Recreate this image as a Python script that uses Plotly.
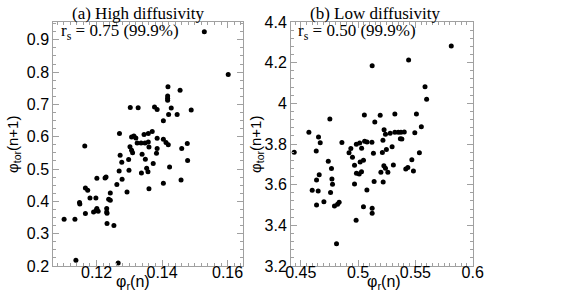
import plotly.graph_objects as go

# ---------------- data ----------------
# (a) High diffusivity
phi_r_high = [0.1529, 0.1602, 0.1418, 0.1455, 0.1417, 0.1417, 0.1417, 0.1303, 0.1327, 0.1377,
              0.1385, 0.1428, 0.1489, 0.1420, 0.1446, 0.1404, 0.1370, 0.1358, 0.1385, 0.1270,
              0.1307, 0.1314, 0.1320, 0.1345, 0.1324, 0.1336, 0.1348, 0.1358, 0.1360, 0.1404,
              0.1412, 0.1419, 0.1477, 0.1460, 0.1385, 0.1383, 0.1164, 0.1302, 0.1307, 0.1310,
              0.1339, 0.1272, 0.1298, 0.1349, 0.1373, 0.1353, 0.1357, 0.1337, 0.1423, 0.1478,
              0.1458, 0.1404, 0.1360, 0.1277, 0.1269, 0.1299, 0.1278, 0.1262, 0.1293, 0.1201,
              0.1226, 0.1229, 0.1166, 0.1173, 0.1242, 0.1180, 0.1198, 0.1237, 0.1242, 0.1148,
              0.1149, 0.1201, 0.1199, 0.1205, 0.1191, 0.1231, 0.1231, 0.1232, 0.1166, 0.1101,
              0.1134, 0.1232, 0.1253, 0.1137, 0.1266]
phi_tor_high = [0.9245, 0.7926, 0.7548, 0.7440, 0.7263, 0.7192, 0.7130, 0.6904, 0.6900, 0.6923,
                0.6842, 0.6892, 0.6830, 0.6687, 0.6687, 0.6495, 0.6161, 0.6099, 0.5954, 0.6099,
                0.5994, 0.6025, 0.5963, 0.6068, 0.5808, 0.5808, 0.5808, 0.5839, 0.5684, 0.5923,
                0.5820, 0.5752, 0.5789, 0.5635, 0.5635, 0.5489, 0.5715, 0.5690, 0.5582, 0.5505,
                0.5458, 0.5427, 0.5294, 0.5303, 0.5170, 0.5025, 0.4916, 0.4879, 0.5065, 0.5263,
                0.4663, 0.4560, 0.4390, 0.5210, 0.4941, 0.4963, 0.4684, 0.4520, 0.4291, 0.4715,
                0.4724, 0.4755, 0.4415, 0.4344, 0.4260, 0.4105, 0.4105, 0.4065, 0.4034, 0.3963,
                0.3920, 0.3777, 0.3724, 0.3693, 0.3672, 0.3777, 0.3672, 0.3632, 0.3622, 0.3446,
                0.3446, 0.3313, 0.3251, 0.2176, 0.2093]

# (b) Low diffusivity
phi_r_low = [0.5813, 0.5441, 0.5123, 0.5584, 0.5598, 0.4754, 0.5055, 0.5193, 0.5321, 0.5509,
             0.5146, 0.5552, 0.4571, 0.5227, 0.5239, 0.5280, 0.5321, 0.5351, 0.5374, 0.5403,
             0.5495, 0.5369, 0.5382, 0.4655, 0.4670, 0.4859, 0.4985, 0.5014, 0.5057, 0.5078,
             0.5121, 0.5217, 0.4937, 0.5031, 0.5297, 0.5247, 0.4635, 0.4921, 0.4443, 0.5134,
             0.5212, 0.5535, 0.5469, 0.4951, 0.4740, 0.4768, 0.4661, 0.4638, 0.4772, 0.4777,
             0.4969, 0.5018, 0.5047, 0.4986, 0.5010, 0.5030, 0.4969, 0.4600, 0.4652, 0.4760,
             0.5077, 0.4702, 0.4638, 0.4794, 0.4821, 0.4835, 0.5047, 0.5123, 0.5123, 0.4983,
             0.4812, 0.5140, 0.5199, 0.5219, 0.5225, 0.5239, 0.5260, 0.5308, 0.5416, 0.5434,
             0.5483]
phi_tor_low = [4.282, 4.213, 4.185, 4.082, 4.020, 3.923, 3.943, 3.942, 3.948, 3.948,
               3.908, 3.885, 3.858, 3.870, 3.848, 3.853, 3.858, 3.858, 3.858, 3.859,
               3.855, 3.826, 3.825, 3.834, 3.806, 3.807, 3.799, 3.805, 3.813, 3.810,
               3.808, 3.818, 3.778, 3.779, 3.786, 3.773, 3.766, 3.757, 3.759, 3.754,
               3.758, 3.757, 3.723, 3.735, 3.715, 3.679, 3.649, 3.623, 3.628, 3.602,
               3.695, 3.712, 3.720, 3.656, 3.653, 3.664, 3.603, 3.572, 3.569, 3.561,
               3.574, 3.516, 3.500, 3.495, 3.504, 3.513, 3.492, 3.484, 3.459, 3.425,
               3.310, 3.615, 3.661, 3.613, 3.693, 3.681, 3.661, 3.697, 3.677, 3.684,
               3.667]

panel_titles = ["(a) High diffusivity", "(b) Low diffusivity"]
rs_labels = ["r<sub>s</sub> = 0.75 (99.9%)", "r<sub>s</sub> = 0.50 (99.9%)"]
x_title = "φ<sub>r</sub>(n)"
y_title = "φ<sub>tor</sub>(n+1)"

xa_ticks = [0.12, 0.14, 0.16]
xa_text = ["0.12", "0.14", "0.16"]
ya_ticks = [0.2, 0.3, 0.4, 0.5, 0.6, 0.7, 0.8, 0.9]
ya_text = ["0.2", "0.3", "0.4", "0.5", "0.6", "0.7", "0.8", "0.9"]
xb_ticks = [0.45, 0.5, 0.55, 0.6]
xb_text = ["0.45", "0.5", "0.55", "0.6"]
yb_ticks = [3.2, 3.4, 3.6, 3.8, 4.0, 4.2, 4.4]
yb_text = ["3.2", "3.4", "3.6", "3.8", "4", "4.2", "4.4"]

# ---------------- figure ----------------
W, H = 568, 308
fig = go.Figure()
mk = dict(color="black", size=5)
fig.add_trace(go.Scatter(x=phi_r_high, y=phi_tor_high, mode="markers", marker=mk,
                         xaxis="x", yaxis="y", showlegend=False))
fig.add_trace(go.Scatter(x=phi_r_low, y=phi_tor_low, mode="markers", marker=mk,
                         xaxis="x2", yaxis="y2", showlegend=False))

frame = "#a0a0a0"
tickfont = dict(family="Liberation Sans, Arial, sans-serif", size=16, color="black")


def ax(domain, rng, tv, tt, mdt, anchor, standoff=0):
    return dict(domain=domain, range=rng, tickvals=tv, ticktext=tt, anchor=anchor,
                automargin=False,
                showgrid=False, zeroline=False, showline=True, linecolor=frame, linewidth=1,
                mirror="ticks", ticks="inside", ticklen=6, tickcolor=frame, tickwidth=1,
                tickfont=tickfont, ticklabelstandoff=standoff,
                minor=dict(ticks="inside", ticklen=3, dtick=mdt, tick0=0, tickcolor=frame,
                           showgrid=False))


ydom = [1 - 266 / H, 1 - 22 / H]
fig.update_layout(
    width=W, height=H, margin=dict(l=0, r=0, t=0, b=0, pad=0, autoexpand=False),
    paper_bgcolor="white", plot_bgcolor="white",
    xaxis=ax([53.3 / W, 243.3 / W], [0.1068, 0.1648], xa_ticks, xa_text, 0.002, "y", -8),
    yaxis=ax(ydom, [0.2, 0.955], ya_ticks, ya_text, 0.025, "x"),
    xaxis2=ax([291 / W, 472.7 / W], [0.4415, 0.6], xb_ticks, xb_text, 0.005, "y2", -8),
    yaxis2=ax(ydom, [3.2, 4.4], yb_ticks, yb_text, 0.04, "x2"),
)

serif = dict(family="Liberation Serif, Times New Roman, serif", size=17, color="black")
sans = dict(family="Liberation Sans, Arial, sans-serif", size=16, color="black")
sans_y = dict(family="Liberation Sans, Arial, sans-serif", size=15, color="black")


def P(px, py):
    return px / W, 1 - py / H


ann = []
for txt, (cx, cy) in zip(panel_titles, [(137.5, 13.5), (375.3, 13.5)]):
    x, y = P(cx, cy)
    ann.append(dict(text=txt, x=x, y=y, xref="paper", yref="paper", showarrow=False,
                    xanchor="center", yanchor="middle", font=serif))
for txt, (lx, cy) in zip(rs_labels, [(59, 32), (296.3, 32)]):
    x, y = P(lx, cy)
    ann.append(dict(text=txt, x=x, y=y, xref="paper", yref="paper", showarrow=False,
                    xanchor="left", yanchor="middle", font=serif))
for cx in [132.5, 383.5]:
    x, y = P(cx, 282)
    ann.append(dict(text=x_title, x=x, y=y, xref="paper", yref="paper", showarrow=False,
                    xanchor="center", yanchor="middle", font=sans))
for cx in [13, 256]:
    x, y = P(cx, 145)
    ann.append(dict(text=y_title, x=x, y=y, xref="paper", yref="paper", showarrow=False,
                    xanchor="center", yanchor="middle", textangle=-90, font=sans_y))
fig.update_layout(annotations=ann)

# remove the default 8px page margin so the figure sits at the window's corner
fig.write_html("out.html", config={"displayModeBar": False},
               post_script="document.body.style.margin='0px';")
